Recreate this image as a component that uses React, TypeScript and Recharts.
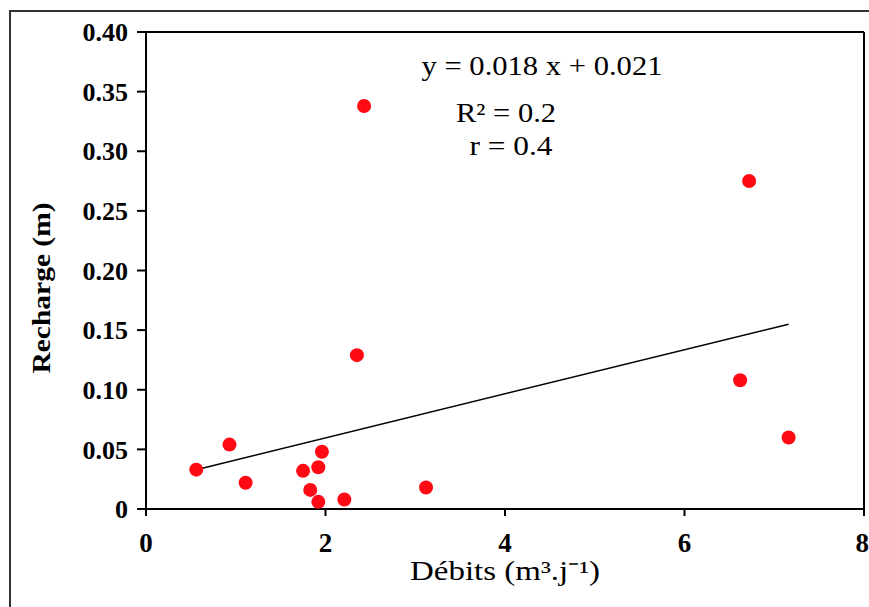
import React from "react";
import {
  ReferenceLine,
  Scatter,
  ScatterChart,
  XAxis,
  YAxis,
  Customized,
} from "recharts";

// débits (m3/j) et recharge (m)
const debits = [0.56, 0.93, 1.11, 1.75, 1.83, 1.92, 1.96, 1.92, 2.21, 3.12, 2.35, 2.43, 6.72, 6.62, 7.16];
const recharge = [0.033, 0.054, 0.022, 0.032, 0.016, 0.035, 0.048, 0.006, 0.008, 0.018, 0.129, 0.338, 0.275, 0.108, 0.06];

// extrémités de la droite de régression
const trendX = [0.56, 7.16];
const trendY = [0.033, 0.155];

const xTicks = [0, 2, 4, 6, 8];
const yTicks = [0, 0.05, 0.1, 0.15, 0.2, 0.25, 0.3, 0.35, 0.4];

const equation = ["y = 0.018 x + 0.021", "R² = 0.2", "r = 0.4"];

const points = debits.map((d, i) => ({ x: d, y: recharge[i] }));
const trend = trendX.map((d, i) => ({ x: d, y: trendY[i] }));

const serif = "Liberation Serif";

const RedDot = (props: any) => (
  <circle cx={props.cx} cy={props.cy} r={7} fill="#ff0a14" />
);

const Texts = () => (
  <g style={{ fontFamily: serif }} fill="#000">
    <text
      transform="translate(50,288) rotate(-90)"
      textAnchor="middle"
      fontSize={26}
      fontWeight="bold"
      textLength={171}
      lengthAdjust="spacingAndGlyphs"
    >
      Recharge (m)
    </text>
    <text x={505} y={580} textAnchor="middle" fontSize={27} textLength={190} lengthAdjust="spacingAndGlyphs">
      Débits (m³.j⁻¹)
    </text>
    <text x={542} y={75} textAnchor="middle" fontSize={27} textLength={241} lengthAdjust="spacingAndGlyphs">
      {equation[0]}
    </text>
    <text x={506} y={122} textAnchor="middle" fontSize={27} textLength={100} lengthAdjust="spacingAndGlyphs">
      {equation[1]}
    </text>
    <text x={511} y={155} textAnchor="middle" fontSize={27} textLength={83} lengthAdjust="spacingAndGlyphs">
      {equation[2]}
    </text>
  </g>
);

export default function App() {
  return (
    <div
      style={{
        position: "absolute",
        left: 0,
        top: 0,
        width: 869,
        height: 607,
        overflow: "hidden",
        background: "#fff",
        fontFamily: serif,
      }}
    >
      <div
        style={{
          position: "absolute",
          left: 9,
          top: 10,
          width: 900,
          height: 700,
          border: "2px solid #333",
        }}
      />
      <div style={{ position: "absolute", left: 0, top: 0 }}>
        <ScatterChart
          width={869}
          height={607}
          margin={{ top: 32, right: 5, left: 0, bottom: 0 }}
          style={{ fontFamily: serif }}
        >
          <XAxis
            type="number"
            dataKey="x"
            domain={[0, 8]}
            ticks={xTicks}
            height={98}
            tickSize={7}
            tickMargin={17}
            axisLine={{ stroke: "#000", strokeWidth: 2 }}
            tickLine={{ stroke: "#000", strokeWidth: 2 }}
            tick={{ fontFamily: serif, fontSize: 27, fontWeight: "bold", fill: "#000" }}
          />
          <YAxis
            type="number"
            dataKey="y"
            domain={[0, 0.4]}
            ticks={yTicks}
            width={146}
            tickSize={9}
            tickMargin={9}
            tickFormatter={(v: number) => (v === 0 ? "0" : v.toFixed(2))}
            axisLine={{ stroke: "#000", strokeWidth: 2 }}
            tickLine={{ stroke: "#000", strokeWidth: 2 }}
            tick={{ fontFamily: serif, fontSize: 26, fontWeight: "bold", fill: "#000" }}
          />
          <ReferenceLine y={0.4} stroke="#000" strokeWidth={2} />
          <ReferenceLine x={8} stroke="#000" strokeWidth={2} />
          <Scatter
            data={trend}
            line={{ stroke: "#000", strokeWidth: 1.5 }}
            shape={() => <g />}
            isAnimationActive={false}
          />
          <Scatter data={points} shape={RedDot} isAnimationActive={false} />
          <Customized component={Texts} />
        </ScatterChart>
      </div>
    </div>
  );
}
